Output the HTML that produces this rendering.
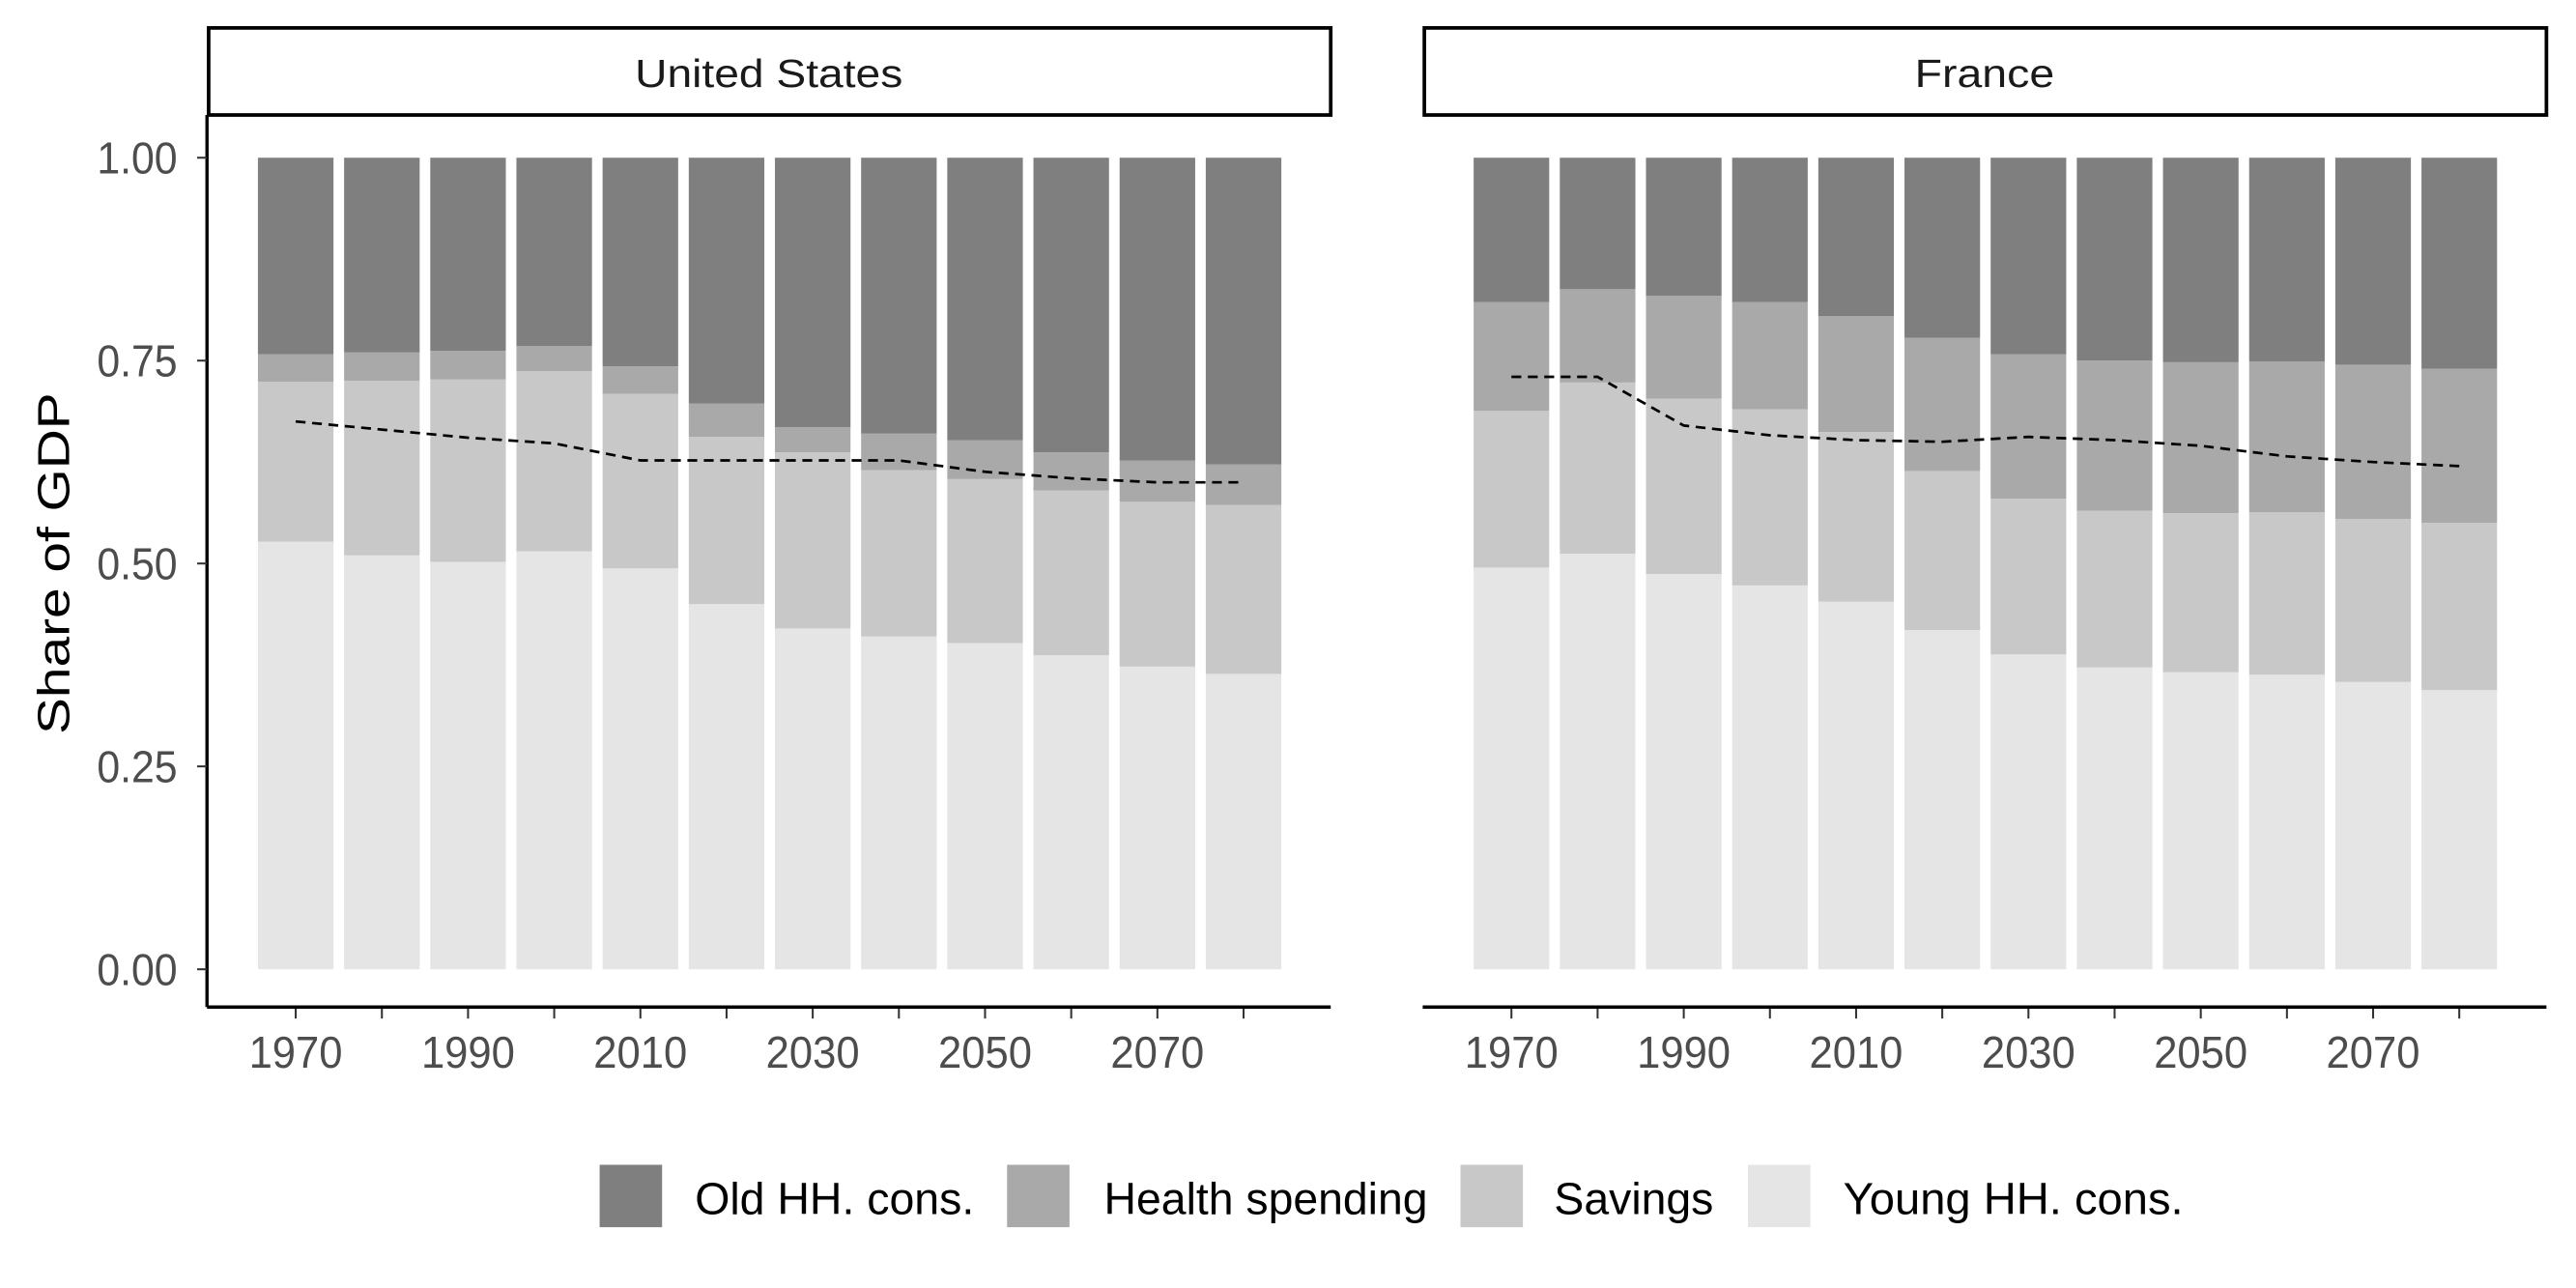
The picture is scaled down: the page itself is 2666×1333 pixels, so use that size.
<!DOCTYPE html>
<html><head><meta charset="utf-8"><style>
html,body{margin:0;padding:0;background:#fff}
svg{display:block;font-family:"Liberation Sans",sans-serif}
</style></head><body>
<svg id="chart" width="2666" height="1333" viewBox="0 0 1568 784" xmlns="http://www.w3.org/2000/svg"></svg>
<script>
const years=[1970,1980,1990,2000,2010,2020,2030,2040,2050,2060,2070,2080];
const usYoung=[.527,.51,.502,.515,.494,.45,.42,.41,.402,.387,.373,.364];
const usSavTop=[.724,.725,.727,.737,.709,.656,.637,.615,.604,.59,.576,.572];
const usHealthTop=[.758,.76,.762,.768,.743,.697,.668,.66,.652,.637,.627,.622];
const usLine=[.675,.665,.655,.648,.627,.627,.627,.627,.613,.605,.6,.6];
const frYoung=[.495,.512,.487,.473,.453,.418,.388,.372,.366,.363,.354,.344];
const frSavTop=[.688,.723,.703,.69,.662,.614,.58,.565,.562,.563,.555,.55];
const frHealthTop=[.822,.838,.83,.822,.805,.778,.758,.75,.748,.749,.745,.74];
const frLine=[.73,.73,.67,.658,.652,.65,.656,.652,.645,.632,.625,.62];
const yTicks=[0,0.25,0.5,0.75,1];
const yTickLabels=["0.00","0.25","0.50","0.75","1.00"];
const xLabelYears=[1970,1990,2010,2030,2050,2070];
const colors={young:"#e5e5e5",sav:"#c8c8c8",health:"#a9a9a9",old:"#7f7f7f"};
const NS="http://www.w3.org/2000/svg";
const svg=document.getElementById('chart');
function mk(tag,attrs,parent){const e=document.createElementNS(NS,tag);for(const k in attrs)e.setAttribute(k,attrs[k]);(parent||svg).appendChild(e);return e;}
const yS=v=>590-v*494;
function panel(x0,title,titleLen,young,sav,health,line,showY,key){
  const g=mk('g',{});
  
  
  const xS=yr=>x0+54+(yr-1970)/10*52.45;
  const strip=mk('rect',{x:x0+1,y:17,width:683,height:53,fill:'#fff',stroke:'#000','stroke-width':2.2},g);
  
  
  const st=mk('text',{x:x0+342,y:53,'text-anchor':'middle','font-size':24,fill:'#1a1a1a',textLength:titleLen,lengthAdjust:'spacingAndGlyphs'},g);st.textContent=title;
  
  
  years.forEach((yr,i)=>{
    const cx=xS(yr),w=46;
    const segs=[[0,young[i],colors.young],[young[i],sav[i],colors.sav],[sav[i],health[i],colors.health],[health[i],1,colors.old]];
    segs.forEach((s,j)=>{
      const r=mk('rect',{x:cx-w/2,y:yS(s[1]),width:w,height:yS(s[0])-yS(s[1]),fill:s[2]},g);
      
      
    });
    mk('line',{x1:cx,x2:cx,y1:613,y2:620,stroke:'#333','stroke-width':1.2},g);
  });
  const pts=years.map((yr,i)=>xS(yr)+','+yS(line[i])).join(' ');
  const pl=mk('polyline',{points:pts,fill:'none',stroke:'#000','stroke-width':1.6,'stroke-dasharray':'6,4'},g);
  
  
  mk('line',{x1:x0,x2:x0+684,y1:613,y2:613,stroke:'#000','stroke-width':2},g);
  xLabelYears.forEach(yr=>{
    const t=mk('text',{x:xS(yr),y:650,'text-anchor':'middle','font-size':27,fill:'#4d4d4d',textLength:57,lengthAdjust:'spacingAndGlyphs'},g);t.textContent=yr;
    
    
  });
  if(showY){
    mk('line',{x1:x0,x2:x0,y1:70,y2:613,stroke:'#000','stroke-width':2},g);
    yTicks.forEach((v,i)=>{
      mk('line',{x1:x0-6,x2:x0,y1:yS(v),y2:yS(v),stroke:'#333','stroke-width':1.2},g);
      const t=mk('text',{x:x0-18,y:yS(v)+9.5,'text-anchor':'end','font-size':27,fill:'#4d4d4d',textLength:49,lengthAdjust:'spacingAndGlyphs'},g);t.textContent=yTickLabels[i];
      
      
    });
  }
}
panel(126,'United States',163,usYoung,usSavTop,usHealthTop,usLine,true,'us');
panel(866,'France',85,frYoung,frSavTop,frHealthTop,frLine,false,'france');
const yt=mk('text',{x:0,y:0,transform:'translate(42,343) rotate(-90)','text-anchor':'middle','font-size':27,fill:'#000',textLength:208,lengthAdjust:'spacingAndGlyphs'});
yt.textContent='Share of GDP';


const legend=[[365,colors.old,'Old HH. cons.',423,170],[613,colors.health,'Health spending',672,197],[889,colors.sav,'Savings',946,97],[1064,colors.young,'Young HH. cons.',1122,207]];
legend.forEach(l=>{
  const r=mk('rect',{x:l[0],y:709,width:38,height:38,fill:l[1]});
  
  
  const t=mk('text',{x:l[3],y:739,'font-size':27,fill:'#000',textLength:l[4],lengthAdjust:'spacingAndGlyphs'});t.textContent=l[2];
  
  
});
</script>
</body></html>
